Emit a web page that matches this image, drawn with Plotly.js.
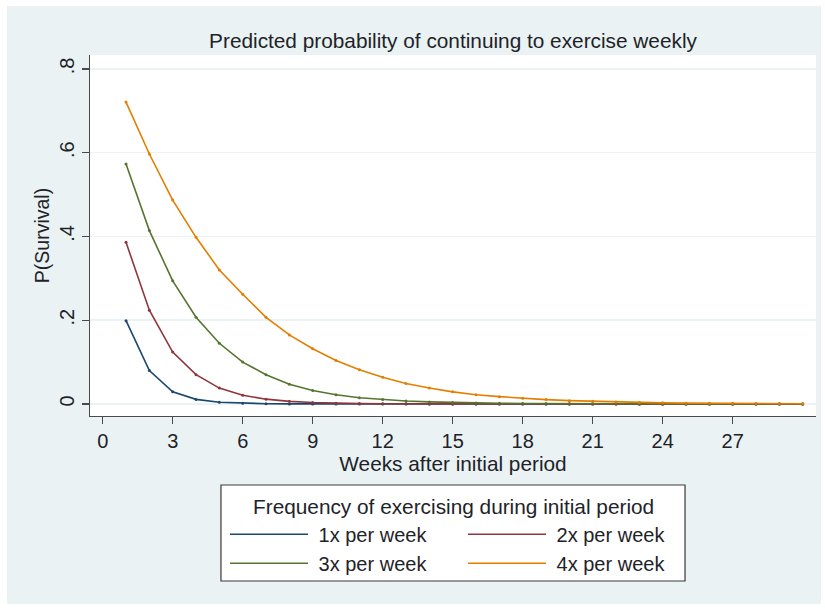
<!DOCTYPE html>
<html>
<head>
<meta charset="utf-8">
<script src="https://cdn.plot.ly/plotly-3.0.1.min.js"></script>
<style>
  html, body { margin: 0; padding: 0; background: #ffffff; }
  #chart { position: absolute; left: 7px; top: 6px; width: 814px; height: 598px; }
</style>
</head>
<body>
<div id="chart"></div>
<script>
// Weeks after the initial period
var weeks = [1, 2, 3, 4, 5, 6, 7, 8, 9, 10, 11, 12, 13, 14, 15,
             16, 17, 18, 19, 20, 21, 22, 23, 24, 25, 26, 27, 28, 29, 30];

// Predicted survival probability by exercise frequency during the initial period
var p1x = [0.199, 0.080, 0.029, 0.011, 0.004, 0.0015, 0.0006, 0.0002, 0.0001, 0.0001,
           0, 0, 0, 0, 0, 0, 0, 0, 0, 0, 0, 0, 0, 0, 0, 0, 0, 0, 0, 0];
var p2x = [0.386, 0.224, 0.124, 0.070, 0.038, 0.021, 0.0115, 0.0063, 0.0035, 0.0019,
           0.0010, 0.0006, 0.0003, 0.0002, 0.0001, 0.0001, 0, 0, 0, 0,
           0, 0, 0, 0, 0, 0, 0, 0, 0, 0];
var p3x = [0.573, 0.414, 0.294, 0.207, 0.145, 0.100, 0.070, 0.047, 0.032, 0.022,
           0.015, 0.0105, 0.0072, 0.0050, 0.0034, 0.0023, 0.0016, 0.0011, 0.0008, 0.0005,
           0.0004, 0.0003, 0.0002, 0.0001, 0.0001, 0.0001, 0, 0, 0, 0];
var p4x = [0.721, 0.597, 0.487, 0.398, 0.320, 0.262, 0.207, 0.165, 0.132, 0.104,
           0.082, 0.064, 0.049, 0.038, 0.029, 0.022, 0.0175, 0.0136, 0.0105, 0.008,
           0.0063, 0.0048, 0.0036, 0.0027, 0.0020, 0.0015, 0.0012, 0.0009, 0.0007, 0.0005];

var seriesNames = ['1x per week', '2x per week', '3x per week', '4x per week'];
var seriesValues = [p1x, p2x, p3x, p4x];
var seriesColors = ['#1a476f', '#90353b', '#55752f', '#e37e00'];
var seriesLegends = ['legend', 'legend2', 'legend', 'legend2'];

var xTickVals = [0, 3, 6, 9, 12, 15, 18, 21, 24, 27];
var yTickVals = [0, 0.2, 0.4, 0.6, 0.8];
var yTickText = ['0', '.2', '.4', '.6', '.8'];

var FONT = '"Liberation Sans", Arial, sans-serif';
var TEXT = '#1e2329';

var traces = [];
// connecting lines (these carry the legend entries)
seriesValues.forEach(function (vals, i) {
  traces.push({
    type: 'scatter',
    mode: 'lines',
    x: weeks,
    y: vals,
    name: '\u00a0' + seriesNames[i],
    legend: seriesLegends[i],
    line: { color: seriesColors[i], width: 1.6 }
  });
});
// small dots at each weekly estimate
seriesValues.forEach(function (vals, i) {
  traces.push({
    type: 'scatter',
    mode: 'markers',
    x: weeks,
    y: vals,
    showlegend: false,
    hoverinfo: 'skip',
    marker: { color: seriesColors[i], size: 3 }
  });
});

var legendCommon = {
  orientation: 'v',
  bgcolor: 'rgba(0,0,0,0)',
  borderwidth: 0,
  itemwidth: 78,
  font: { family: FONT, size: 20, color: TEXT },
  xanchor: 'left',
  yanchor: 'top',
  y: -0.2737,
  tracegroupgap: 0
};

var layout = {
  width: 814,
  height: 598,
  paper_bgcolor: '#eaf2f3',
  plot_bgcolor: '#ffffff',
  margin: { l: 83, r: 5, t: 49, b: 188, pad: 0, autoexpand: false },
  showlegend: true,
  font: { family: FONT, color: TEXT },
  title: {
    text: 'Predicted probability of continuing to exercise weekly',
    font: { family: FONT, size: 20.8, color: TEXT },
    xref: 'paper', x: 0.5, xanchor: 'center',
    yref: 'container', y: 0.9415, yanchor: 'middle'
  },
  xaxis: {
    range: [-0.544, 30.57],
    tickmode: 'array', tickvals: xTickVals,
    showgrid: false, zeroline: false,
    showline: true, linecolor: '#4a4a4a', linewidth: 1.3,
    ticks: 'outside', ticklen: 7, tickwidth: 1.3, tickcolor: '#4a4a4a',
    tickfont: { family: FONT, size: 20, color: TEXT },
    title: { text: 'Weeks after initial period', font: { family: FONT, size: 20.8, color: TEXT }, standoff: 2 }
  },
  yaxis: {
    range: [-0.0287, 0.8334],
    tickmode: 'array', tickvals: yTickVals, ticktext: yTickText,
    tickangle: -90,
    showgrid: true, gridcolor: '#eaf2f3', gridwidth: 1.5,
    zeroline: false,
    showline: true, linecolor: '#4a4a4a', linewidth: 1.3,
    ticks: 'outside', ticklen: 7, tickwidth: 1.3, tickcolor: '#4a4a4a',
    tickfont: { family: FONT, size: 20, color: TEXT },
    automargin: true,
    title: { text: 'P(Survival)', font: { family: FONT, size: 19.5, color: TEXT }, standoff: 1 }
  },
  legend: Object.assign({}, legendCommon, { x: 0.18595 }),
  legend2: Object.assign({}, legendCommon, { x: 0.51377 }),
  shapes: [{
    type: 'rect', xref: 'paper', yref: 'paper',
    x0: 0.1804, x1: 0.8196, y0: -0.457, y1: -0.1911,
    line: { color: '#3a3a3a', width: 1.2 },
    fillcolor: '#ffffff',
    layer: 'below'
  }],
  annotations: [{
    text: 'Frequency of exercising during initial period',
    xref: 'paper', yref: 'paper',
    x: 0.5, y: -0.2512, xanchor: 'center', yanchor: 'middle',
    showarrow: false,
    font: { family: FONT, size: 20.8, color: TEXT }
  }]
};

Plotly.newPlot('chart', traces, layout, { displayModeBar: false, staticPlot: true });
</script>
</body>
</html>
